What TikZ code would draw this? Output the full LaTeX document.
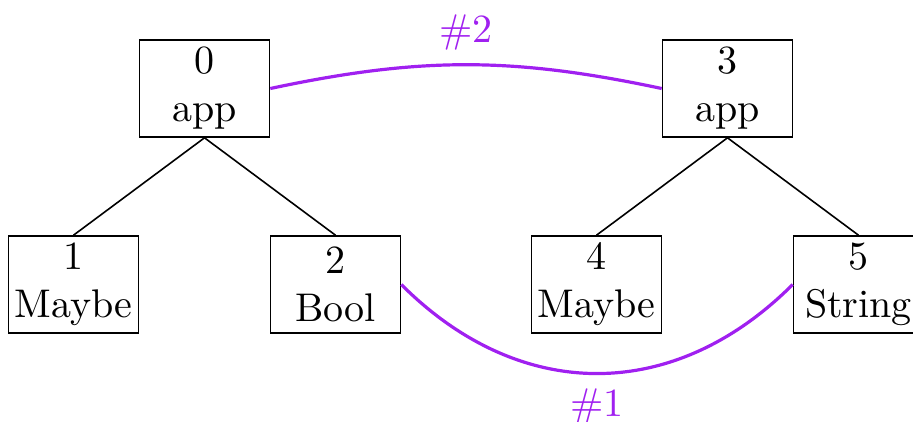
\documentclass[tikz,border=0pt]{standalone}
\usepackage{amsmath}
\usepackage{tikz}

\definecolor{unifypurple}{HTML}{A020F0}

\begin{document}
\begin{tikzpicture}[
    typebox/.style={draw, align=center, minimum width=32.5pt, minimum height=24.25pt, inner sep=1pt},
    every child node/.style={typebox},
    level distance=49pt, sibling distance=65.5pt,
    edge from parent path={(\tikzparentnode.south) -- (\tikzchildnode.north)},
    link/.style={draw=unifypurple, thick},
    linklabel/.style={text=unifypurple}
  ]
  \useasboundingbox (0,0) rectangle (228.25pt,-105.25pt);
  \node [typebox] (n0) at (51.125pt,-22.125pt) {0\\app}
    child { node (n1) {1\\Maybe} }
    child { node (n2) {2\\Bool} }
  ;
  \node [typebox] (n3) at (181.875pt,-22.125pt) {3\\app}
    child { node (n4) {4\\Maybe} }
    child { node (n5) {5\\String} }
  ;
  \draw [link] (n0.east) to [bend left=12] node [linklabel, above] {\#2} (n3.west);
  \draw [link] (n2.east) to [bend right=45, looseness=1.1] node [linklabel, below] {\#1} (n5.west);
\end{tikzpicture}
\end{document}
